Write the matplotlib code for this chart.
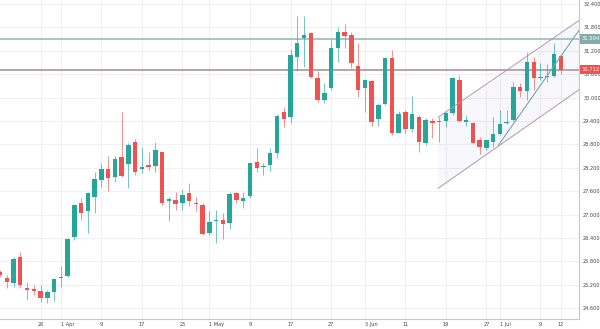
import matplotlib.pyplot as plt
import numpy as np

# daily OHLC, oldest first (last candle = 12 Jul)
opens = [25.54, 25.37, 25.25, 25.90, 25.11, 25.09, 25.04, 24.85, 25.01, 25.41,
         25.43, 26.43, 27.31, 27.09, 27.46, 27.89, 28.18, 27.96, 28.47, 28.30,
         28.87, 28.16, 28.25, 28.25, 28.60, 27.35, 27.37, 27.31, 27.55, 27.31,
         27.25, 26.52, 26.83, 26.86, 26.79, 27.55, 27.35, 27.48, 28.36, 28.22,
         28.27, 28.57, 29.62, 29.49, 31.05, 31.52, 31.65, 30.51, 29.94, 30.24,
         31.28, 31.69, 31.61, 30.82, 30.24, 30.43, 29.44, 29.84, 31.01, 29.10,
         29.64, 29.19, 29.51, 28.84, 29.40, 29.37, 29.41, 29.60, 30.45, 29.37,
         29.36, 28.90, 28.72, 28.87, 29.07, 29.34, 29.43, 30.26, 30.18, 30.92,
         30.51, 30.52, 30.55, 31.07]
highs = [25.58, 25.45, 25.92, 26.05, 25.26, 25.20, 25.20, 25.07, 25.37, 25.68,
         26.39, 27.27, 27.42, 27.59, 28.10, 28.32, 28.50, 28.49, 29.64, 28.83,
         28.93, 28.74, 28.61, 28.87, 28.61, 27.46, 27.59, 27.66, 27.80, 27.46,
         27.30, 27.10, 27.12, 27.03, 27.57, 27.59, 27.59, 28.33, 28.70, 28.32,
         28.72, 29.57, 29.75, 31.24, 32.08, 32.08, 31.67, 30.69, 30.38, 31.48,
         31.82, 31.89, 31.69, 31.39, 30.48, 30.45, 29.85, 31.03, 31.22, 29.66,
         29.68, 30.04, 29.55, 29.47, 29.47, 29.51, 29.64, 30.54, 30.58, 29.55,
         29.38, 29.00, 28.91, 29.51, 29.68, 29.68, 30.41, 30.37, 31.18, 31.03,
         30.88, 30.86, 31.39, 31.09]
lows = [25.40, 25.11, 25.15, 25.14, 24.81, 24.94, 24.77, 24.74, 24.79, 25.15,
        25.41, 26.35, 26.86, 26.52, 27.03, 27.72, 27.61, 27.84, 27.97, 27.67,
        28.02, 28.06, 28.14, 28.10, 27.25, 26.84, 27.12, 27.12, 27.22, 27.08,
        26.48, 26.48, 26.26, 26.37, 26.62, 27.29, 27.16, 27.42, 28.10, 28.02,
        28.13, 28.44, 29.24, 29.34, 30.68, 30.79, 30.50, 29.90, 29.85, 30.20,
        30.92, 31.26, 30.75, 30.01, 29.64, 29.27, 29.27, 29.81, 29.04, 29.08,
        29.10, 29.13, 28.61, 28.79, 28.96, 28.87, 29.24, 29.55, 29.37, 29.26,
        28.83, 28.55, 28.66, 28.74, 29.04, 29.32, 29.41, 30.02, 29.94, 30.20,
        30.45, 30.41, 30.54, 30.60]
closes = [25.45, 25.26, 25.85, 25.20, 25.06, 25.04, 24.85, 25.02, 25.34, 25.38,
          26.37, 27.25, 27.05, 27.55, 27.91, 28.18, 27.93, 28.43, 27.99, 28.79,
          28.09, 28.21, 28.23, 28.65, 27.29, 27.40, 27.28, 27.50, 27.34, 27.27,
          26.50, 26.82, 26.84, 26.75, 27.52, 27.37, 27.43, 28.32, 28.20, 28.23,
          28.57, 29.53, 29.45, 31.09, 31.41, 31.61, 30.54, 29.94, 30.13, 31.28,
          31.67, 31.59, 30.88, 30.20, 30.45, 29.38, 29.81, 31.01, 29.08, 29.57,
          29.19, 29.57, 28.87, 29.43, 29.34, 29.41, 29.60, 30.50, 29.41, 29.43,
          28.84, 28.73, 28.90, 29.06, 29.32, 29.38, 30.26, 30.18, 30.91, 30.50,
          30.52, 30.55, 31.11, 30.712]

tick_pos = [6, 9, 15, 21, 27, 31, 37, 43, 49, 54, 60, 66, 72, 74, 80, 83]
tick_lab = ['26', '1 Apr', '9', '17', '25', '1 May', '9', '17', '27', '3 Jun',
            '11', '19', '27', '1 Jul', '9', '12']
month_labels = ['1 Apr', '1 May', '3 Jun', '1 Jul']

price_ticks = [24.6, 25.2, 25.8, 26.4, 27.0, 27.6, 28.2, 28.8, 29.4, 30.0,
               30.6, 31.2, 31.8, 32.4]

# horizontal levels
resistance = 31.504
support = 30.712

# rising channel (bar index, price) and trend line
chan_lower = [(64.84, 27.674), (85.8, 30.213)]
chan_upper = [(64.84, 29.495), (85.8, 31.990)]
trend = [(73.8, 28.785), (85.8, 31.751)]

UP = '#26a69a'
DOWN = '#ef5350'

fig = plt.figure(figsize=(6, 3.29), dpi=100)
ax = fig.add_axes([0, 10 / 329, 579 / 600, 319 / 329])

# grid
for p in price_ticks:
    ax.axhline(p, color='#f0f0f0', lw=0.8, zorder=0)
for t in tick_pos:
    ax.axvline(t, color='#f0f0f0', lw=0.8, zorder=0)

# channel fill and lines
xs = np.array([chan_lower[0][0], chan_lower[1][0]])
ax.fill_between(xs, [chan_lower[0][1], chan_lower[1][1]],
                [chan_upper[0][1], chan_upper[1][1]],
                color='#a89ad6', alpha=0.08, lw=0, zorder=1)
for ln in (chan_lower, chan_upper):
    ax.plot([ln[0][0], ln[1][0]], [ln[0][1], ln[1][1]],
            color='#ad9bb1', lw=0.7, zorder=4)
ax.plot([trend[0][0], trend[1][0]], [trend[0][1], trend[1][1]],
        color='#74a6ac', lw=0.8, zorder=4)

# levels
ax.axhline(resistance, color='#a9c3c3', lw=1.4, zorder=2)
ax.axhline(support, color='#b9a3a6', lw=1.4, zorder=2)

# candles
idx = np.arange(len(opens))
o = np.array(opens)
c = np.array(closes)
colors = [UP if cc >= oo else DOWN for oo, cc in zip(o, c)]
ax.vlines(idx, lows, highs, colors=colors, lw=0.6, alpha=0.75, zorder=3)
body = np.maximum(np.abs(c - o), 0.03)
ax.bar(idx, body, bottom=np.minimum(o, c), width=0.66, color=colors,
       lw=0, zorder=3)

ax.set_xlim(0, 85.7)
ax.set_ylim(24.323, 32.5026)

# price scale on the right
ax.yaxis.tick_right()
ax.set_yticks(price_ticks)
ax.set_yticklabels(['%.3f' % p for p in price_ticks])
ax.tick_params(axis='y', length=0, pad=3, labelsize=3.6, labelcolor='#444444')

ax.set_xticks(tick_pos)
ax.set_xticklabels(tick_lab)
ax.tick_params(axis='x', length=0, pad=2.5, labelsize=3.6, labelcolor='#444444')
for lab in ax.get_xticklabels():
    if lab.get_text() in month_labels:
        lab.set_ha('left')

for side in ('top', 'left'):
    ax.spines[side].set_visible(False)
for side in ('right', 'bottom'):
    ax.spines[side].set_color('#c8c8c8')
    ax.spines[side].set_linewidth(0.8)

# price tags
for val, fc in ((resistance, '#86abab'), (support, '#ef5350')):
    ax.annotate('%.3f' % val, xy=(1.0, val),
                xycoords=('axes fraction', 'data'),
                xytext=(2.0, 0), textcoords='offset points',
                ha='left', va='center', fontsize=3.8, color='white',
                bbox=dict(boxstyle='square,pad=0.4', fc=fc, ec='none'),
                annotation_clip=False)

fig.savefig('out.png', dpi=100)
